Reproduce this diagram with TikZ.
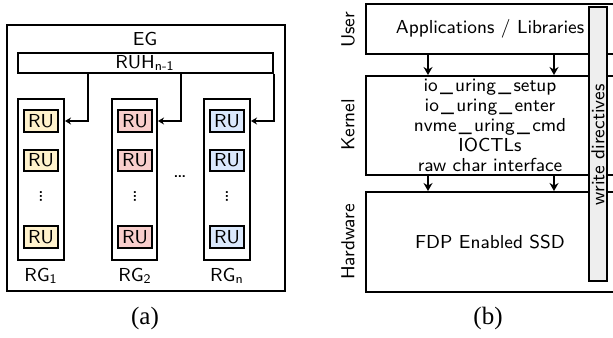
\documentclass[tikz,border=0pt]{standalone}
\usepackage{fontspec}
\setmainfont{Liberation Serif}
\setsansfont{Latin Modern Sans}
\usetikzlibrary{arrows.meta,fit}
\definecolor{ruyellow}{HTML}{FFF2CC}
\definecolor{rured}{HTML}{F8CECC}
\definecolor{rublue}{HTML}{DAE8FC}
\definecolor{bargray}{HTML}{EEEEEE}
\newcommand{\usc}{\kern0.12em\_\kern0.12em}
\tikzset{
  box/.style={draw, line width=1pt, inner sep=0pt},
  txt/.style={font=\sffamily\fontsize{9.4}{10}\selectfont, inner sep=0pt, align=center},
  ruy/.style={box, fill=ruyellow},
  rur/.style={box, fill=rured},
  rub/.style={box, fill=rublue},
  vdts/.style={txt, rotate=90, font=\sffamily\fontsize{11.5}{10}\selectfont},
  arrA/.style={line width=1pt, -{Stealth[length=3pt,width=3.5pt]}},
  arrB/.style={line width=1pt, -{Stealth[length=4pt,width=4.5pt]}},
  captxt/.style={font=\fontsize{12.5}{14}\selectfont, inner sep=0pt},
}
\begin{document}
\begin{tikzpicture}[x=0.5pt, y=-0.5pt]
\clip (0,0) rectangle (613,337);
% ---------- (a) ----------
\node[box, fit={(7,25) (285,291)}] (eg) {};
\node[txt] (eglab) at (145,39) {EG};
\node[box, fit={(18,53) (273,73)}] (ruh) {};
\node[txt] (ruhlab) at (145,63) {RUH\textsubscript{n-1}};
% RG boxes
\node[box, fit={(18,99) (64,260)}] (rg1) {};
\node[box, fit={(112,99) (157,260)}] (rg2) {};
\node[box, fit={(204,99) (250,260)}] (rgn) {};
% RU in RG1
\node[ruy, fit={(24,110) (58,132)}] (ru11) {};
\node[txt] at (ru11) {RU};
\node[ruy, fit={(24,150) (58,171)}] (ru12) {};
\node[txt] at (ru12) {RU};
\node[ruy, fit={(24,226) (58,248)}] (ru13) {};
\node[txt] at (ru13) {RU};
% RU in RG2
\node[rur, fit={(118,110) (152,132)}] (ru21) {};
\node[txt] at (ru21) {RU};
\node[rur, fit={(118,150) (152,171)}] (ru22) {};
\node[txt] at (ru22) {RU};
\node[rur, fit={(118,226) (152,248)}] (ru23) {};
\node[txt] at (ru23) {RU};
% RU in RGn
\node[rub, fit={(210,110) (244,132)}] (ru31) {};
\node[txt] at (ru31) {RU};
\node[rub, fit={(210,150) (244,171)}] (ru32) {};
\node[txt] at (ru32) {RU};
\node[rub, fit={(210,226) (244,248)}] (ru33) {};
\node[txt] at (ru33) {RU};
% vertical dots
\node[vdts] (vd1) at (41,196) {\dots};
\node[vdts] (vd2) at (135,196) {\dots};
\node[vdts] (vd3) at (227,196) {\dots};
\node[txt, font=\sffamily\fontsize{11.5}{10}\selectfont] (hd) at (180,177) {\dots};
% RG labels
\node[txt] (rg1lab) at (41,276) {RG\textsubscript{1}};
\node[txt] (rg2lab) at (135,276) {RG\textsubscript{2}};
\node[txt] (rgnlab) at (227,276) {RG\textsubscript{n}};
% arrows
\coordinate (t1) at (88,73);
\coordinate (t2) at (181,73);
\draw[arrA] (ruh.south -| t1) |- (ru11 -| rg1.east);
\draw[arrA] (ruh.south -| t2) |- (ru21 -| rg2.east);
\draw[arrA] (ruh.south east) |- (ru31 -| rgn.east);
\node[captxt] (capa) at (145,318) {(a)};
% ---------- (b) ----------
\node[box, fit={(366,4) (660,54)}] (user) {};
\node[box, fit={(366,76) (660,175)}] (kernel) {};
\node[box, fit={(366,192) (660,292)}] (hw) {};
\node[txt] (applab) at (490,29) {Applications / Libraries};
\node[txt] (kerlab) at (490,125) {io\usc uring\usc setup\\io\usc uring\usc enter\\nvme\usc uring\usc cmd\\IOCTLs\\raw char interface};
\node[txt] (hwlab) at (490,242) {FDP Enabled SSD};
\node[txt, rotate=90] (ul) at (348,30) {User};
\node[txt, rotate=90] (kl) at (348,125) {Kernel};
\node[txt, rotate=90] (hl) at (348,242) {Hardware};
\coordinate (a1) at (428,0);
\coordinate (a2) at (554,0);
\draw[arrB] (user.south -| a1) -- (kernel.north -| a1);
\draw[arrB] (user.south -| a2) -- (kernel.north -| a2);
\draw[arrB] (kernel.south -| a1) -- (hw.north -| a1);
\draw[arrB] (kernel.south -| a2) -- (hw.north -| a2);
\node[box, fit={(589,7) (607,281)}, fill=bargray] (bar) {};
\node[txt, rotate=90] (wd) at (598,145) {write directives};
\node[captxt] (capb) at (488,318) {(b)};
\end{tikzpicture}
\end{document}
